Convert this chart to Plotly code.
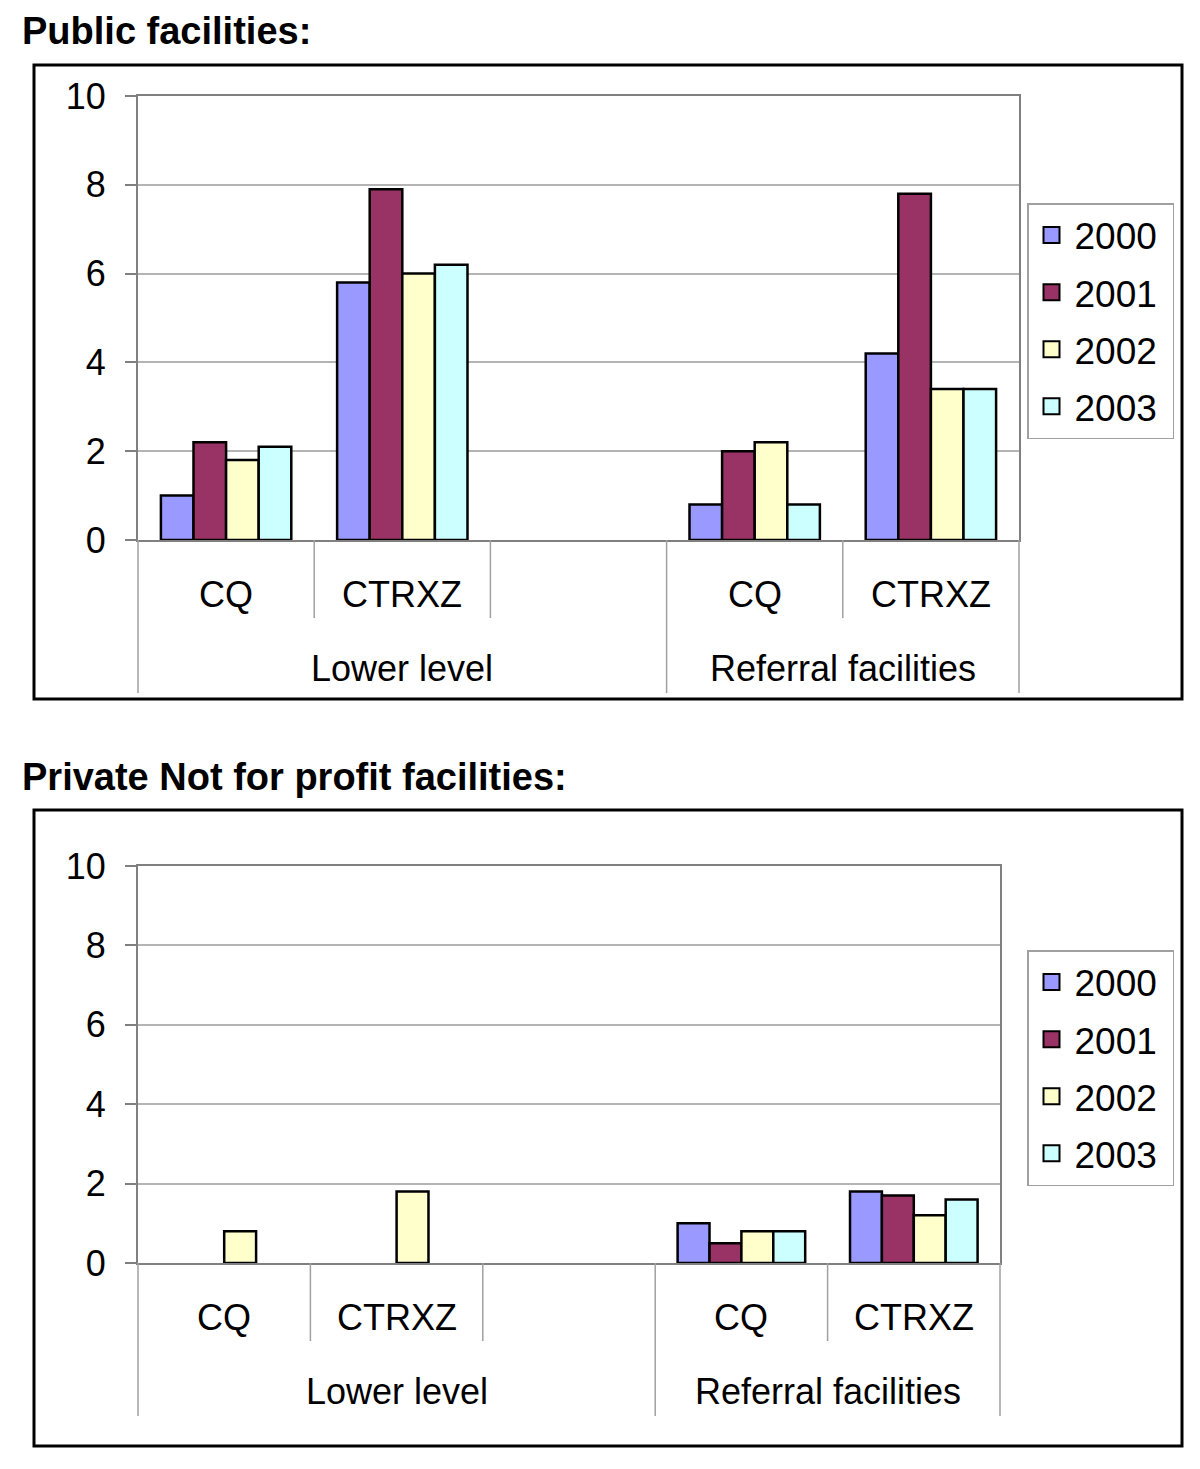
import plotly.graph_objects as go

years = ["2000", "2001", "2002", "2003"]
colors = ["#9999FF", "#993366", "#FFFFCC", "#CCFFFF"]

groups = ["Lower level", "Lower level", "Lower level", "Referral facilities", "Referral facilities"]
cats = ["CQ", "CTRXZ", "", "CQ", "CTRXZ"]

public_vals = {
    "2000": [1.0, 5.8, None, 0.8, 4.2],
    "2001": [2.2, 7.9, None, 2.0, 7.8],
    "2002": [1.8, 6.0, None, 2.2, 3.4],
    "2003": [2.1, 6.2, None, 0.8, 3.4],
}
private_vals = {
    "2000": [None, None, None, 1.0, 1.8],
    "2001": [None, None, None, 0.5, 1.7],
    "2002": [0.8, 1.8, None, 0.8, 1.2],
    "2003": [None, None, None, 0.8, 1.6],
}

y_ticks = [0, 2, 4, 6, 8, 10]

keys = [g + " | " + c for g, c in zip(groups, cats)]

FONT = "Liberation Sans, Arial, sans-serif"
OX, OY = 8, 8
FW, FH = 1192, 1453


def px_x(p):
    return (p - OX) / FW


def px_y(p):
    return 1 - (p - OY) / FH


fig = go.Figure()

panels = [
    dict(vals=public_vals, xa="x", ya="y", lg="legend", xl=138, xr=1019, yt=96, yb=540,
         title="<b>Public facilities:</b>", title_y=31, box=(34, 1182, 65, 699), leg_y=203),
    dict(vals=private_vals, xa="x2", ya="y2", lg="legend2", xl=138, xr=1000, yt=866, yb=1263,
         title="<b>Private Not for profit facilities:</b>", title_y=777, box=(34, 1182, 810, 1446), leg_y=950),
]

shapes = []
annotations = []
layout_axes = {}

n = len(keys)
for k, pnl in enumerate(panels):
    for yr, c in zip(years, colors):
        fig.add_trace(go.Bar(
            x=keys, y=pnl["vals"][yr], name=yr,
            marker=dict(color=c, line=dict(color="black", width=2.5)),
            xaxis=pnl["xa"], yaxis=pnl["ya"], showlegend=False,
        ))
    for yr, c in zip(years, colors):
        fig.add_trace(go.Scatter(
            x=[None], y=[None], name=yr + " ", mode="markers",
            marker=dict(symbol="square", size=16, color=c, line=dict(color="black", width=2)),
            xaxis="x3", yaxis="y3", legend=pnl["lg"], legendgroup=pnl["lg"] + yr, showlegend=True,
        ))

    xname = "xaxis" if k == 0 else "xaxis2"
    yname = "yaxis" if k == 0 else "yaxis2"
    layout_axes[xname] = dict(
        domain=[px_x(pnl["xl"]), px_x(pnl["xr"])], anchor=pnl["ya"],
        type="category", categoryorder="array", categoryarray=keys, range=[-0.5, n - 0.5],
        showticklabels=False, ticks="", showgrid=False, automargin=False,
        showline=True, linecolor="#808080", linewidth=2, mirror=True, fixedrange=True,
    )
    layout_axes[yname] = dict(
        domain=[px_y(pnl["yb"]), px_y(pnl["yt"])], anchor=pnl["xa"],
        range=[0, 10], tickvals=y_ticks, showline=True, linecolor="#808080", linewidth=2, mirror=True,
        ticks="outside", ticklen=11, tickcolor="#808080", tickwidth=2, ticklabelstandoff=12,
        showgrid=True, gridcolor="#B4B4B4", gridwidth=1.5, zeroline=False, automargin=False,
        tickfont=dict(family=FONT, size=36, color="black"),
    )

    plot_h = pnl["yb"] - pnl["yt"]
    xd = pnl["xa"] + " domain"
    yd = pnl["ya"] + " domain"
    # boundaries between categories
    for b in range(n + 1):
        is_group_edge = b == 0 or b == n or groups[b] != groups[b - 1]
        length = 153 if is_group_edge else 78
        shapes.append(dict(type="line", xref=xd, yref=yd, x0=b / n, x1=b / n,
                           y0=0, y1=-length / plot_h, line=dict(color="#A0A0A0", width=1.5)))
    # inner category labels
    for i, c in enumerate(cats):
        if c:
            annotations.append(dict(text=c, xref=xd, yref=yd, x=(i + 0.5) / n, y=-54 / plot_h,
                                    xanchor="center", yanchor="middle", showarrow=False,
                                    font=dict(family=FONT, size=36, color="black")))
    # group labels
    start = 0
    for i in range(1, n + 1):
        if i == n or groups[i] != groups[start]:
            annotations.append(dict(text=groups[start], xref=xd, yref=yd, x=(start + i) / 2 / n,
                                    y=-128 / plot_h, xanchor="center", yanchor="middle", showarrow=False,
                                    font=dict(family=FONT, size=36, color="black")))
            start = i

    bx0, bx1, by0, by1 = pnl["box"]
    shapes.append(dict(type="rect", xref="paper", yref="paper", x0=px_x(bx0), x1=px_x(bx1),
                       y0=px_y(by1), y1=px_y(by0), line=dict(color="black", width=3)))
    annotations.append(dict(text=pnl["title"], xref="paper", yref="paper",
                            x=px_x(20), y=px_y(pnl["title_y"]), xanchor="left", yanchor="middle",
                            showarrow=False, font=dict(family=FONT, size=38, color="black")))
    layout_axes[pnl["lg"]] = dict(
        x=px_x(1027), y=px_y(pnl["leg_y"]), xanchor="left", yanchor="top",
        bordercolor="#A0A0A0", borderwidth=1.5, bgcolor="white", itemwidth=36,
        font=dict(family=FONT, size=37, color="black"), tracegroupgap=6,
    )

fig.update_layout(
    width=FW, height=FH,
    margin=dict(l=0, r=0, t=0, b=0, autoexpand=False),
    paper_bgcolor="white", plot_bgcolor="white",
    barmode="group", bargap=0.26, bargroupgap=0,
    xaxis3=dict(domain=[0, 0.01], visible=False, anchor="y3"),
    yaxis3=dict(domain=[0, 0.01], visible=False, anchor="x3"),
    shapes=shapes, annotations=annotations,
    **layout_axes,
)

fig.write_html("out.html")
